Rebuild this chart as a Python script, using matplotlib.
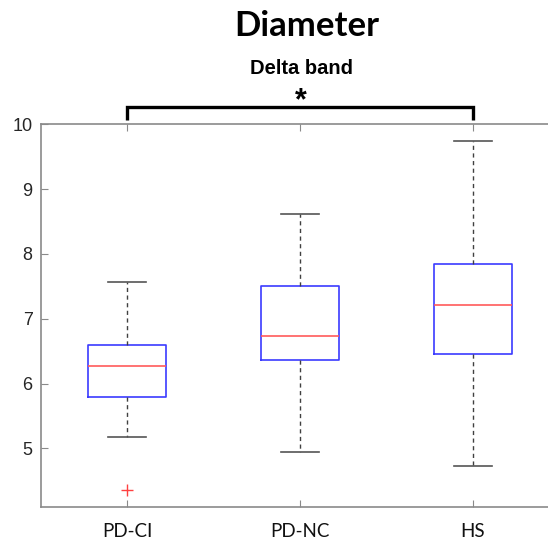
import matplotlib.pyplot as plt

groups = ['PD-CI', 'PD-NC', 'HS']
whislo = [5.17, 4.94, 4.73]
q1 = [5.79, 6.37, 6.46]
med = [6.27, 6.73, 7.21]
q3 = [6.60, 7.51, 7.84]
whishi = [7.57, 8.62, 9.74]
fliers = [[4.36], [], []]

stats = []
for i in range(len(groups)):
    stats.append(dict(label=groups[i], whislo=whislo[i], q1=q1[i], med=med[i],
                      q3=q3[i], whishi=whishi[i], fliers=fliers[i]))

fig = plt.figure(figsize=(5.48, 5.40), dpi=100)
ax = fig.add_axes([41/548, 1 - 506.7/540, (559 - 41)/548, (506.7 - 124.3)/540])

ax.bxp(stats, positions=[1, 2, 3], widths=0.45,
       boxprops=dict(color='#3b3bff', linewidth=1.2),
       medianprops=dict(color='#ff5a5a', linewidth=1.2),
       whiskerprops=dict(color='#404040', linewidth=1.0, linestyle=(0, (3, 2.5))),
       capprops=dict(color='#555555', linewidth=1.2),
       flierprops=dict(marker='+', markeredgecolor='#ff4040', markersize=8, markeredgewidth=1.0),
       capwidths=0.22)

ax.set_xlim(0.5, 3.5)
ax.set_ylim(4.1, 10)
ax.set_yticks([5, 6, 7, 8, 9, 10])
ax.set_xticks([1, 2, 3])
ax.set_xticklabels(groups)
for s in ax.spines.values():
    s.set_color('#8a8a8a')
    s.set_linewidth(1.2)
ax.tick_params(direction='in', length=5, color='#8a8a8a', top=True, right=True)
ax.tick_params(axis='y', labelsize=13, labelcolor='#262626', pad=6)
ax.tick_params(axis='x', labelsize=13.5, labelcolor='#111111', pad=12)
for lab in ax.get_yticklabels():
    lab.set_family('Liberation Sans')
for lab in ax.get_xticklabels():
    lab.set_family('Lato')

# significance bracket
ax.plot([1, 1, 3, 3], [10.06, 10.267, 10.267, 10.06], color='black', lw=2.4,
        clip_on=False, solid_capstyle='butt', solid_joinstyle='miter')
fig.text(301/548, 1 - 101/540, '*', ha='center', va='center', fontsize=22,
         fontweight='bold', family='Liberation Sans')
fig.text(301/548, 1 - 68/540, 'Delta band', ha='center', va='center', fontsize=14.5,
         fontweight='bold', family='Liberation Sans')
fig.text(307/548, 1 - 26/540, 'Diameter', ha='center', va='center', fontsize=25,
         fontweight='bold', family='Lato')

fig.savefig('out.png', dpi=100)
